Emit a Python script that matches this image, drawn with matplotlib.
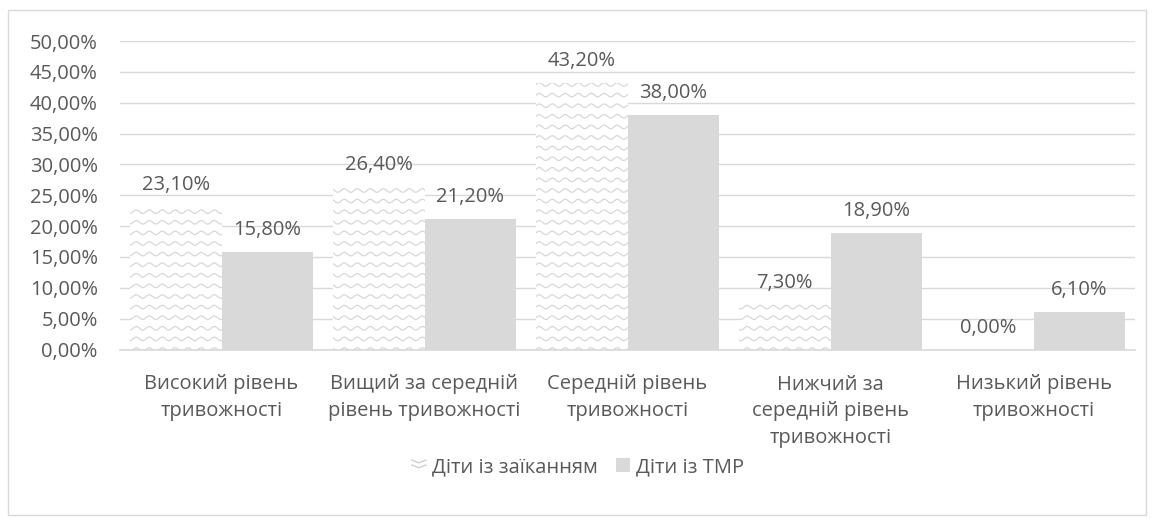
import numpy as np
import matplotlib
matplotlib.use("Agg")
import matplotlib.pyplot as plt
from matplotlib.lines import Line2D
from matplotlib.patches import Rectangle, Patch
from matplotlib.legend_handler import HandlerBase

categories = ["Високий рівень\nтривожності",
              "Вищий за середній\nрівень тривожності",
              "Середній рівень\nтривожності",
              "Нижчий за\nсередній рівень\nтривожності",
              "Низький рівень\nтривожності"]
stutter = [23.10, 26.40, 43.20, 7.30, 0.00]
tmr = [15.80, 21.20, 38.00, 18.90, 6.10]
series_names = ["Діти із заїканням", "Діти із ТМР"]
yticks = [0, 5, 10, 15, 20, 25, 30, 35, 40, 45, 50]

TXT = "#595959"
GRID = "#d9d9d9"
SOLID = "#d9d9d9"
WAVE = "#d6d6d6"

plt.rcParams['font.family'] = ['Open Sans', 'DejaVu Sans']
FS = 14.5

fig = plt.figure(figsize=(11.54, 5.25), dpi=100)
fig.patches.append(Rectangle((8/1154, 1-515/525), (1146-8)/1154, (515-10)/525,
                             transform=fig.transFigure, fill=False,
                             edgecolor=GRID, linewidth=1))
ax = fig.add_axes([120/1154, 1-349.5/525, (1135-120)/1154, (349.5-41)/525])

x = np.arange(len(categories))
w = 0.45
b1 = ax.bar(x - w/2, stutter, w, color="white", edgecolor="none", zorder=2)
b2 = ax.bar(x + w/2, tmr, w, color=SOLID, edgecolor="none", zorder=2)

# wavy fill pattern, clipped to each bar
axw_px = 1015.0
axh_px = 308.5
period = 13.0
amp = 1.8
rowsp = 10.6
xs_px = np.linspace(0, axw_px, int(axw_px * 2))
for bar in b1:
    for r in np.arange(-rowsp, axh_px + rowsp, rowsp):
        ys_px = r + amp * np.sin(2 * np.pi * xs_px / period)
        ln = Line2D(xs_px / axw_px, ys_px / axh_px, transform=ax.transAxes,
                    color=WAVE, linewidth=0.85, zorder=3)
        ax.add_line(ln)
        ln.set_clip_path(bar)

for bars, vals in ((b1, stutter), (b2, tmr)):
    for bar, v in zip(bars, vals):
        ax.text(bar.get_x() + bar.get_width()/2, v + 1.9,
                f"{v:.2f}%".replace(".", ","), ha="center", va="bottom",
                fontsize=FS, color=TXT, zorder=4)

ax.set_ylim(0, 50)
ax.set_xlim(-0.5, len(categories) - 0.5)
ax.set_yticks(yticks)
ax.set_yticklabels([f"{t:.2f}%".replace(".", ",") for t in yticks])
ax.set_xticks(x)
ax.set_xticklabels(categories, linespacing=1.45)
ax.tick_params(axis="both", length=0, labelsize=FS, colors=TXT)
ax.tick_params(axis="y", pad=16)
ax.tick_params(axis="x", pad=18)
ax.yaxis.grid(True, color=GRID, linewidth=1, zorder=0)
ax.set_axisbelow(True)
for s in ["top", "right", "left"]:
    ax.spines[s].set_visible(False)
ax.spines["bottom"].set_color(GRID)
ax.spines["bottom"].set_linewidth(1.2)


class WaveHandler(HandlerBase):
    def create_artists(self, legend, orig_handle, xdescent, ydescent,
                       width, height, fontsize, trans):
        arts = []
        xx = np.linspace(0, width, 30)
        for k in range(2):
            yy = height * (0.3 + 0.35 * k) + 2.0 * np.abs(((xx / width * 2) % 2) - 1)
            arts.append(Line2D(xx - xdescent, yy - ydescent, color="#cccccc",
                               linewidth=0.9, transform=trans))
        return arts


h1 = Patch(facecolor="white")
h2 = Patch(facecolor=SOLID, edgecolor="none")
fig.legend([h1, h2], series_names, loc="center", bbox_to_anchor=(578/1154, 1-467/525),
           ncol=2, frameon=False, fontsize=FS, labelcolor=TXT,
           handlelength=0.7, handleheight=0.7, handletextpad=0.3, columnspacing=0.9,
           handler_map={h1: WaveHandler()})

fig.savefig("out.png", dpi=100)
